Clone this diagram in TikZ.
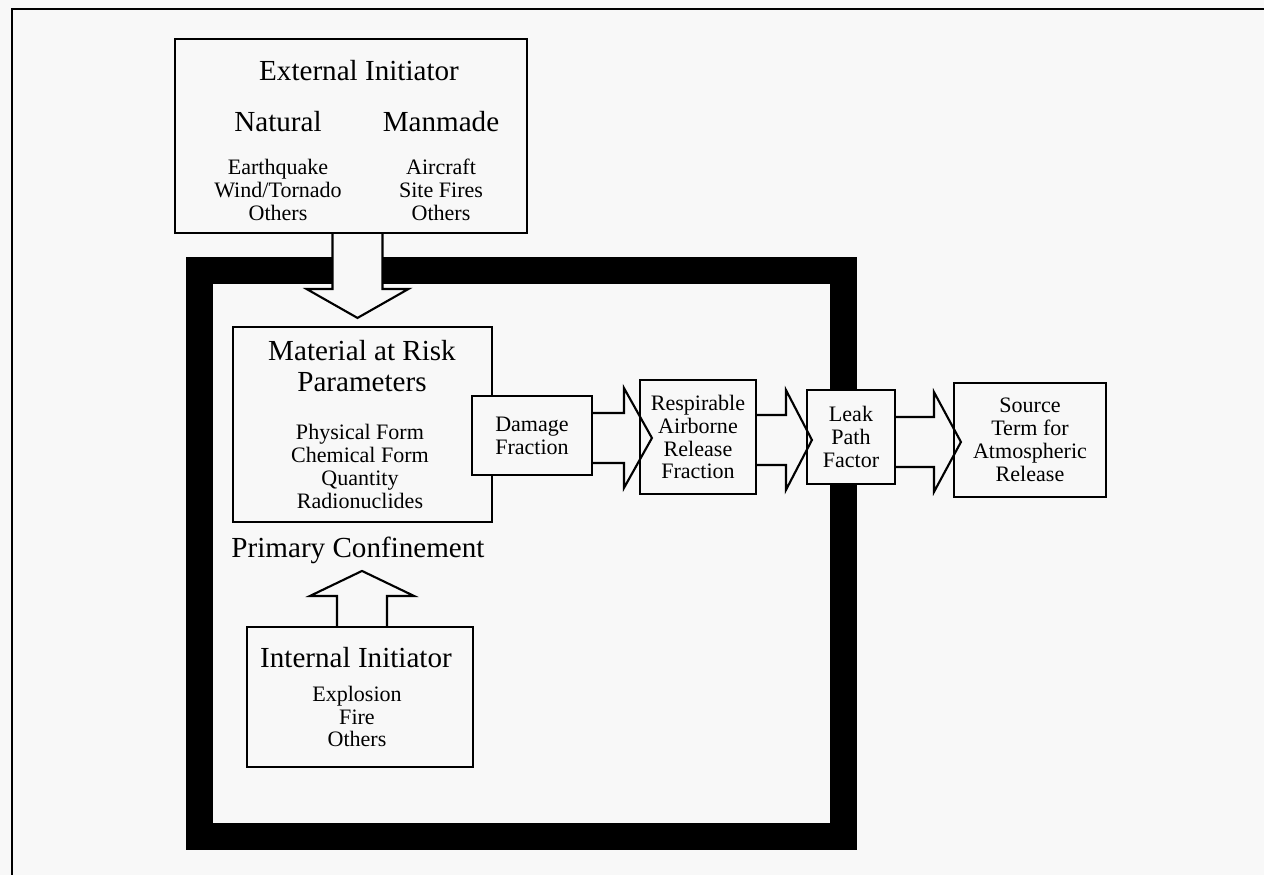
\documentclass[tikz,border=0pt]{standalone}
\usepackage{fontspec}
\setmainfont{Liberation Serif}
\usepackage{tikz}
\usetikzlibrary{calc}
\definecolor{paper}{RGB}{248,248,248}
\newlength{\px}
\setlength{\px}{0.5669pt}
\newcommand{\bigtxt}{\fontsize{16.5}{17.6}\selectfont}
\newcommand{\smalltxt}{\fontsize{12.5}{13}\selectfont}

\begin{document}
\begin{tikzpicture}[x=0.5669pt,y=-0.5669pt,font=\smalltxt]
\tikzstyle{box}=[draw,line width=1.2pt,fill=paper,inner sep=0pt,align=center]
\tikzstyle{flow}=[draw,line width=1.2pt,line join=miter]
\tikzstyle{big}=[font=\bigtxt,anchor=base]

\useasboundingbox (0,0) rectangle (1264,875);
\clip (0,0) rectangle (1264,875);
\fill[paper] (0,0) rectangle (1264,875);
% page frame
\draw[line width=1.7pt] (12,900) -- (12,9) -- (1290,9);

% primary confinement
\node(conf)[draw,line width=27\px,minimum width=644\px,minimum height=566\px,inner sep=0pt] at (521.5,553.5) {};
\node(conf label)[big] at (358,557) {Primary Confinement};

% external initiator
\node(ext)[box,minimum width=352\px,minimum height=194\px] at (351,136) {};
\node(ext title)[big] at (359,81) {External Initiator};
\node(nat)[big] at (278,131) {Natural};
\node(man)[big] at (441,131) {Manmade};
\node(nat list)[align=center] at (278,190) {Earthquake\\Wind/Tornado\\Others};
\node(man list)[align=center] at (441,190) {Aircraft\\Site Fires\\Others};

% material at risk
\node(mar)[box,minimum width=259\px,minimum height=195\px] at (362.5,424.5) {};
\node(mar title)[font=\bigtxt,align=center] at (362,366.5) {Material at Risk\\Parameters};
\node(mar list)[align=center] at (360,466.5) {Physical Form\\Chemical Form\\Quantity\\Radionuclides};

% release chain
\node(dmg)[box,minimum width=120\px,minimum height=79\px] at (532,435.5) {Damage\\Fraction};
\node(resp)[box,minimum width=116\px,minimum height=114\px] at (698,437) {Respirable\\Airborne\\Release\\Fraction};
\node(leak)[box,minimum width=88\px,minimum height=94\px] at (851,437) {Leak\\Path\\Factor};
\node(src)[box,minimum width=152\px,minimum height=114\px] at (1030,440) {Source\\Term for\\Atmospheric\\Release};

% internal initiator
\node(int)[box,minimum width=226\px,minimum height=140\px] at (360,697) {};
\node(int title)[big] at (356,667) {Internal Initiator};
\node(int list)[align=center] at (357,716.5) {Explosion\\Fire\\Others};

% external -> material
\coordinate (t0) at ($(mar.north)+(-5,-8)$);
\draw[flow,fill=paper] ($(t0 |- ext.south)+(-25,0)$) -- ($(t0)+(-25,-29)$) -- ($(t0)+(-51,-29)$) -- (t0)
  -- ($(t0)+(51,-29)$) -- ($(t0)+(25,-29)$) -- ($(t0 |- ext.south)+(25,0)$);

% damage -> respirable
\coordinate (t1) at ($(resp.west)+(13,1)$);
\draw[flow] ($(dmg.east |- t1)+(0,-25)$) -| ($(t1)+(-28,-50)$) -- (t1) -- ($(t1)+(-28,50)$) |- ($(dmg.east |- t1)+(0,25)$);

% respirable -> leak
\coordinate (t2) at ($(leak.west)+(6,3)$);
\draw[flow] ($(resp.east |- t2)+(0,-25)$) -| ($(t2)+(-26,-50)$) -- (t2) -- ($(t2)+(-26,50)$) |- ($(resp.east |- t2)+(0,25)$);

% leak -> source
\coordinate (t3) at ($(src.west)+(8,2)$);
\draw[flow] ($(leak.east |- t3)+(0,-25)$) -| ($(t3)+(-27,-50)$) -- (t3) -- ($(t3)+(-27,50)$) |- ($(leak.east |- t3)+(0,25)$);

% internal -> confinement
\coordinate (t4) at ($(int.north)+(2,-55)$);
\draw[flow,fill=paper] ($(t4 |- int.north)+(-25,0)$) -- ($(t4)+(-25,25)$) -- ($(t4)+(-52,25)$) -- (t4)
  -- ($(t4)+(52,25)$) -- ($(t4)+(25,25)$) -- ($(t4 |- int.north)+(25,0)$);

\end{tikzpicture}
\end{document}
